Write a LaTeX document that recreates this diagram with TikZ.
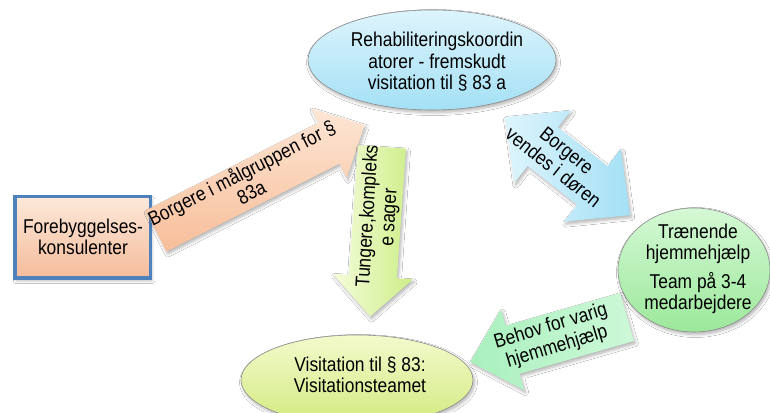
\documentclass[tikz,border=0pt]{standalone}
\usepackage{fontspec}
\setmainfont{Liberation Sans}[FakeStretch=0.87]
\usetikzlibrary{shapes.geometric,shadows.blur}
\definecolor{blueL}{HTML}{DDF4FC}
\definecolor{blueD}{HTML}{A4E0F5}
\definecolor{greenL}{HTML}{D4F8D4}
\definecolor{greenD}{HTML}{9CE89C}
\definecolor{yelL}{HTML}{F3FACC}
\definecolor{yelD}{HTML}{D2EA80}
\definecolor{peachL}{HTML}{FDE6D4}
\definecolor{peachD}{HTML}{F7BE9A}
\definecolor{boxL}{HTML}{FDE9DA}
\definecolor{boxD}{HTML}{F4BB9B}
\definecolor{boxBlue}{HTML}{4F81BD}
\definecolor{mintL}{HTML}{CDF8D8}
\definecolor{mintD}{HTML}{A9F0BD}
\definecolor{lemL}{HTML}{F4FCDA}
\definecolor{lemD}{HTML}{CDEE88}
\newcommand\myblockarrow[7]{%
  \path[#1, shift={#2}, rotate=#3] (0,-#5) -- ({#4-#7},-#5) -- ({#4-#7},-#6) -- (#4,0)
    -- ({#4-#7},#6) -- ({#4-#7},#5) -- (0,#5) -- cycle;}
\newcommand\mydoublearrow[7]{%
  \path[#1, shift={#2}, rotate=#3] (0,0) -- (#7,#6) -- (#7,#5) -- ({#4-#7},#5) -- ({#4-#7},#6)
    -- (#4,0) -- ({#4-#7},-#6) -- ({#4-#7},-#5) -- (#7,-#5) -- (#7,-#6) -- cycle;}
\tikzset{
  every node/.style={font=\fontsize{20}{21.5}\selectfont, align=center, inner sep=0pt},
  softshadow/.style={blur shadow={shadow blur steps=6, shadow xshift=1.5pt, shadow yshift=-2.5pt, shadow opacity=30, shadow blur radius=3pt}},
  bubble/.style={ellipse, draw=black!45, line width=0.6pt, softshadow},
}
\begin{document}
\begin{tikzpicture}[x=1pt,y=1pt]
\path[use as bounding box] (0,0) rectangle (770,412);
\clip (0,0) rectangle (770,412);
\fill[white] (0,0) rectangle (770,412);

% ellipses and box
\node[bubble, top color=blueL, bottom color=blueD, minimum width=248pt, minimum height=100pt] (rehab) at (432,352) {};
\node[bubble, top color=greenL, bottom color=greenD, minimum width=152pt, minimum height=124pt] (traen) at (694,142) {};
\node[bubble, top color=yelL, bottom color=yelD, minimum width=232pt, minimum height=90pt] (visit) at (357,32) {};
\node[draw=boxBlue, line width=3.5pt, top color=boxL, bottom color=boxD, minimum width=135.5pt, minimum height=81.5pt, softshadow] (fore) at (82.5,174.5) {};

% block arrows
\myblockarrow{top color=peachL, bottom color=peachD, softshadow}{(156,181)}{26.9}{234}{23}{39}{40}
\myblockarrow{left color=lemL, right color=lemD, softshadow}{(382,265)}{-94}{170}{24}{40}{40}
\mydoublearrow{left color=blueL, right color=blueD, softshadow}{(505,295)}{-38.1}{159}{24.5}{46}{48}
\myblockarrow{left color=mintD, right color=mintL, softshadow}{(627,95)}{196}{163}{25}{42}{44}

% texts
\node (tRehab) at (437,350) {Rehabiliteringskoordin\\atorer - fremskudt\\visitation til § 83 a};
\node (tTraen) at (698,143) {Trænende\\hjemmehjælp\\[7pt]Team på 3-4\\medarbejdere};
\node (tVisit) at (360,37) {Visitation til § 83:\\Visitationsteamet};
\node (tFore) at (83,175) {Forebyggelses-\\konsulenter};
\node[rotate=27] (tPeach) at (246,230) {Borgere i målgruppen for §\\83a};
\node[rotate=86.5] (tLem) at (379,195) {Tungere,kompleks\\e sager};
\node[rotate=-38.5] (tBlue) at (560,253) {Borgere\\vendes i døren};
\node[rotate=17] (tMint) at (554,75) {Behov for varig\\hjemmehjælp};
\end{tikzpicture}
\end{document}
